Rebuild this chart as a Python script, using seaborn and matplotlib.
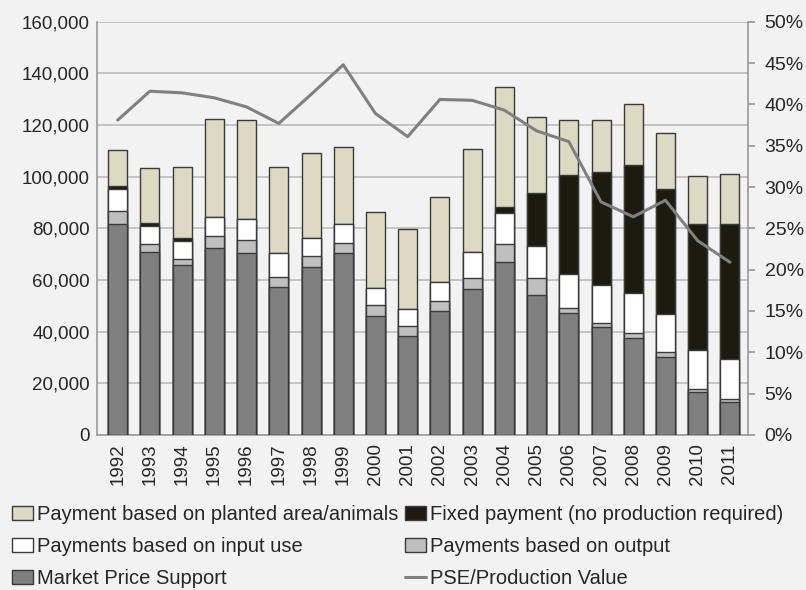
import numpy as np
import pandas as pd
import matplotlib
matplotlib.use("Agg")
import matplotlib.pyplot as plt
import matplotlib.ticker as mticker
from matplotlib.patches import Patch
from matplotlib.lines import Line2D
import seaborn as sns

# values (thousands -> converted below)
years = [str(y) for y in range(1992, 2012)]
market_price = [81.8, 71.0, 65.9, 72.3, 70.6, 57.3, 65.0, 70.3, 46.1, 38.1,
                47.8, 56.6, 66.9, 54.2, 47.1, 41.6, 37.5, 30.1, 16.7, 12.8]
output_pay = [5.1, 2.9, 2.3, 4.8, 4.7, 3.9, 4.1, 4.0, 4.3, 3.9,
              4.1, 4.1, 7.0, 6.5, 2.0, 1.7, 1.9, 1.8, 1.0, 1.0]
input_pay = [8.5, 7.1, 6.7, 7.1, 8.4, 9.2, 7.1, 7.2, 6.4, 6.8,
             7.5, 10.1, 12.0, 12.3, 13.1, 14.6, 15.5, 14.9, 15.0, 15.5]
fixed_pay = [1.1, 1.0, 1.2, 0.0, 0.0, 0.0, 0.0, 0.0, 0.0, 0.0,
             0.0, 0.0, 2.2, 20.6, 38.5, 44.1, 49.7, 48.4, 49.1, 52.5]
planted_pay = [13.7, 21.3, 27.6, 38.2, 38.3, 33.3, 32.9, 30.2, 29.7, 30.9,
               32.8, 39.9, 46.5, 29.4, 21.3, 20.0, 23.5, 21.7, 18.4, 19.2]
pse_share = [38.1, 41.6, 41.4, 40.8, 39.7, 37.7, 41.2, 44.8, 38.9, 36.1,
             40.6, 40.5, 39.3, 36.8, 35.5, 28.2, 26.4, 28.4, 23.5, 20.9]

labels = ["Market Price Support", "Payments based on output",
          "Payments based on input use",
          "Fixed payment (no production required)",
          "Payment based on planted area/animals"]
colors = ["#808080", "#bfbfbf", "#ffffff", "#1d1b10", "#ddd9c3"]
edge = "#3a3a3a"
bg = "#f2f2f2"

df = pd.DataFrame({"year": years,
                   "mps": market_price, "output": output_pay,
                   "input": input_pay, "fixed": fixed_pay,
                   "planted": planted_pay})
layers = ["mps", "output", "input", "fixed", "planted"]
cum = df[layers].cumsum(axis=1) * 1000
df_line = pd.DataFrame({"pos": np.arange(len(years)),
                        "pse": np.array(pse_share) / 100})

sns.set_theme(style="white")
plt.rcParams["font.family"] = ["Liberation Sans", "DejaVu Sans"]
plt.rcParams["font.size"] = 13

fig = plt.figure(figsize=(8.06, 5.9), dpi=100, facecolor=bg)
ax = fig.add_axes([0.12, 0.263, 0.808, 0.700])
ax.set_facecolor(bg)

# stacked bars: draw cumulative totals from top layer down
for i in reversed(range(len(layers))):
    sns.barplot(x=df["year"], y=cum[layers[i]], color=colors[i],
                width=0.59, edgecolor=edge, linewidth=1.0,
                saturation=1, ax=ax, zorder=3)

ax.set_ylim(0, 160000)
ax.set_xlim(-0.65, 19.56)
ax.yaxis.set_major_locator(mticker.MultipleLocator(20000))
ax.yaxis.set_major_formatter(mticker.FuncFormatter(lambda v, p: f"{v:,.0f}"))
ax.grid(axis="y", color="#c4c4c4", linewidth=1.4, zorder=0)
ax.set_axisbelow(True)
ax.set_xlabel("")
ax.set_ylabel("")
ax.tick_params(axis="x", rotation=90, labelsize=13.5, pad=6, length=0)
ax.tick_params(axis="y", labelsize=13.5, pad=5, length=0)
for s in ["left", "bottom"]:
    ax.spines[s].set_color("#9a9a9a")
    ax.spines[s].set_linewidth(1.2)
ax.spines["top"].set_visible(False)
ax.spines["right"].set_visible(False)

ax2 = ax.twinx()
sns.lineplot(data=df_line, x="pos", y="pse", color="#808080",
             linewidth=2.2, ax=ax2, zorder=5)
ax2.set_ylim(0, 0.5)
ax2.yaxis.set_major_locator(mticker.MultipleLocator(0.05))
ax2.yaxis.set_major_formatter(mticker.FuncFormatter(lambda v, p: f"{v * 100:.0f}%"))
ax2.set_ylabel("")
ax2.tick_params(axis="y", labelsize=14, pad=7, length=5, color="#9a9a9a",
                direction="out")
for s in ["left", "top", "bottom"]:
    ax2.spines[s].set_visible(False)
ax2.spines["right"].set_color("#9a9a9a")
ax2.spines["right"].set_linewidth(1.2)
ax.set_xlim(-0.65, 19.56)

handles = [Patch(facecolor=colors[4], edgecolor=edge, label=labels[4]),
           Patch(facecolor=colors[2], edgecolor=edge, label=labels[2]),
           Patch(facecolor=colors[0], edgecolor=edge, label=labels[0]),
           Patch(facecolor=colors[3], edgecolor=edge, label=labels[3]),
           Patch(facecolor=colors[1], edgecolor=edge, label=labels[1]),
           Line2D([0], [0], color="#808080", linewidth=2.2,
                  label="PSE/Production Value")]
fig.legend(handles=handles, ncol=2, loc="lower left",
           bbox_to_anchor=(-0.008, -0.027), frameon=False, fontsize=14.5,
           handlelength=1.05, handleheight=0.7, handletextpad=0.2,
           columnspacing=0.35, labelspacing=0.64)

fig.savefig("out.png", dpi=100, facecolor=bg)
